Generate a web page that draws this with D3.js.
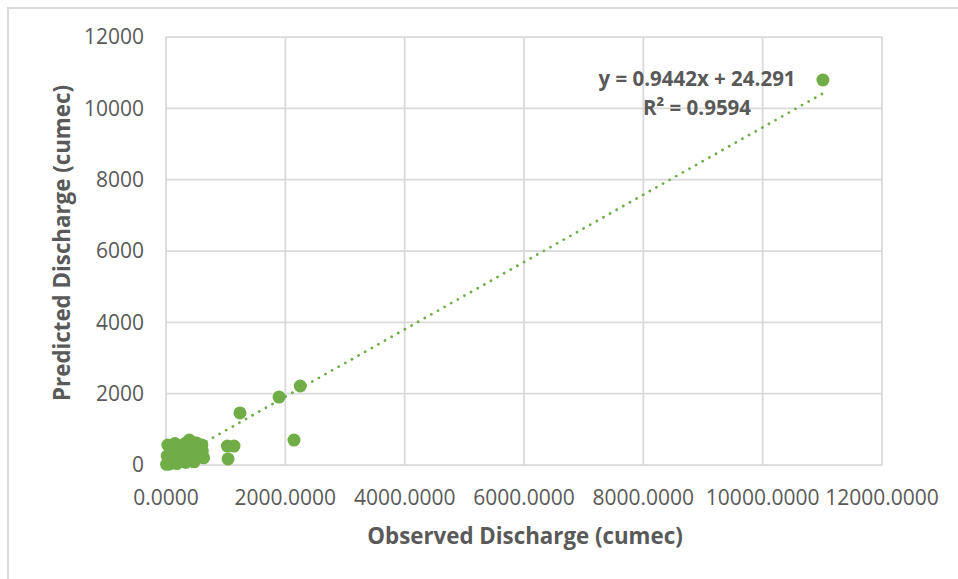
<!DOCTYPE html>
<html lang="en">
<head>
    <meta charset="UTF-8">
    <title>Observed vs Predicted Discharge</title>
    <script src="https://d3js.org/d3.v7.min.js"></script>
    <style>
        body {
            margin: 0;
            background: white;
            font-family: "Open Sans", sans-serif;
        }
        .grid line {
            stroke: #d9d9d9;
            stroke-width: 1.75;
        }
        .tick-label {
            fill: #595959;
            font-size: 21px;
        }
        .axis-title {
            fill: #595959;
            font-size: 22.3px;
            font-weight: bold;
        }
        .eq {
            fill: #595959;
            font-size: 20.5px;
            font-weight: bold;
        }
    </style>
</head>
<body>
    <svg width="958" height="579"></svg>
    <script>
        // observed vs predicted discharge (cumec)
        const observed = [
            11010, 2250, 1895, 1240, 2145, 1030, 1140, 1040,
            10, 30, 50, 70, 90, 110, 140, 170, 200, 230, 260, 290,
            320, 350, 390, 420, 450, 480, 510, 540, 570, 600, 630,
            20, 60, 120, 180, 250, 330, 400, 470, 530, 610,
            150, 280, 360, 440, 80, 220, 500
        ];
        const predicted = [
            10795, 2215, 1905, 1460, 700, 530, 530, 170,
            20, 560, 120, 300, 60, 420, 220, 80, 500, 340, 150, 450,
            600, 260, 700, 520, 380, 180, 620, 300, 470, 560, 200,
            250, 30, 350, 40, 110, 70, 160, 90, 260, 400,
            600, 550, 450, 640, 450, 270, 400
        ];
        const xTicks = [0, 2000, 4000, 6000, 8000, 10000, 12000];
        const yTicks = [0, 2000, 4000, 6000, 8000, 10000, 12000];
        const slope = 0.9442, intercept = 24.291;
        const eqText = "y = 0.9442x + 24.291";
        const r2Text = "R\u00b2 = 0.9594";

        const svg = d3.select("svg");
        const margin = { left: 166, right: 76, top: 37, bottom: 114 };
        const width = 958, height = 579;
        const green = "#70ad47";

        // outer chart border (only top/left visible in the crop)
        svg.append("path")
            .attr("d", `M8,${height} L8,8 L${width},8`)
            .attr("fill", "none")
            .attr("stroke", "#d9d9d9")
            .attr("stroke-width", 2);

        const x = d3.scaleLinear()
            .domain([0, 12000])
            .range([margin.left, width - margin.right]);
        const y = d3.scaleLinear()
            .domain([0, 12000])
            .range([height - margin.bottom, margin.top]);

        // gridlines
        const grid = svg.append("g").attr("class", "grid");
        grid.selectAll(".gx").data(xTicks).enter().append("line")
            .attr("x1", d => x(d)).attr("x2", d => x(d))
            .attr("y1", y(12000)).attr("y2", y(0));
        grid.selectAll(".gy").data(yTicks).enter().append("line")
            .attr("x1", x(0)).attr("x2", x(12000))
            .attr("y1", d => y(d)).attr("y2", d => y(d));

        // tick labels
        svg.selectAll(".xl").data(xTicks).enter().append("text")
            .attr("class", "tick-label")
            .attr("x", d => x(d))
            .attr("y", y(0) + 40)
            .attr("text-anchor", "middle")
            .text(d => d3.format(".4f")(d));
        svg.selectAll(".yl").data(yTicks).enter().append("text")
            .attr("class", "tick-label")
            .attr("x", x(0) - 22)
            .attr("y", d => y(d))
            .attr("dy", "0.35em")
            .attr("text-anchor", "end")
            .text(d => d);

        // points
        const pts = observed.map((d, i) => ({ o: d, p: predicted[i] }));
        svg.selectAll(".pt").data(pts).enter().append("circle")
            .attr("cx", d => x(d.o))
            .attr("cy", d => y(d.p))
            .attr("r", 6.5)
            .attr("fill", green);

        // linear trendline (dotted)
        const xMin = d3.min(observed), xMax = d3.max(observed);
        svg.append("line")
            .attr("x1", x(xMin)).attr("y1", y(slope * xMin + intercept))
            .attr("x2", x(xMax)).attr("y2", y(slope * xMax + intercept))
            .attr("stroke", green)
            .attr("stroke-width", 2.75)
            .attr("stroke-linecap", "round")
            .attr("stroke-dasharray", "0.1,7.5");

        // equation
        svg.append("text").attr("class", "eq")
            .attr("x", 697).attr("y", 86)
            .attr("text-anchor", "middle")
            .text(eqText);
        svg.append("text").attr("class", "eq")
            .attr("x", 697).attr("y", 115)
            .attr("text-anchor", "middle")
            .text(r2Text);

        // axis titles
        svg.append("text")
            .attr("class", "axis-title")
            .attr("x", 525)
            .attr("y", 544)
            .attr("text-anchor", "middle")
            .text("Observed Discharge (cumec)");
        svg.append("text")
            .attr("class", "axis-title")
            .attr("transform", "rotate(-90)")
            .attr("x", -243)
            .attr("y", 70)
            .attr("text-anchor", "middle")
            .text("Predicted Discharge (cumec)");
    </script>
</body>
</html>
